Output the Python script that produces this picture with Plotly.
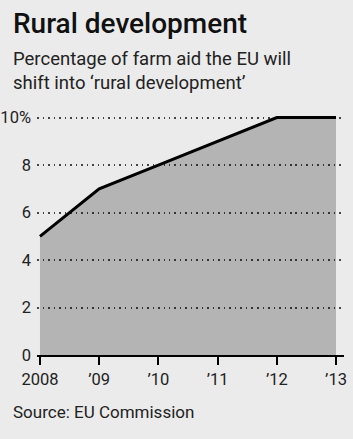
import plotly.graph_objects as go

years = [2008, 2009, 2010, 2011, 2012, 2013]
values = [5, 7, 8, 9, 10, 10]
x_tick_labels = ["2008", "\u201909", "\u201910", "\u201911", "\u201912", "\u201913"]
y_tick_vals = [0, 2, 4, 6, 8, 10]
y_tick_labels = ["0", "2", "4", "6", "8", "10%"]

FONT = "Roboto, sans-serif"
W, H = 353, 439
L, R, T, B = 37, 9, 110, 84
pw, ph = W - L - R, H - T - B

def px(x):
    return (x - L) / pw

def py(y):
    return (H - B - y) / ph

fig = go.Figure()
fig.add_trace(go.Scatter(
    x=years, y=values, mode="lines", fill="tozeroy",
    fillcolor="rgba(0,0,0,0.23)",
    line=dict(color="black", width=3),
    hoverinfo="skip",
))

fig.update_layout(
    width=W, height=H,
    margin=dict(l=L, r=R, t=T, b=B, pad=0, autoexpand=False),
    paper_bgcolor="#ebebeb", plot_bgcolor="#ebebeb",
    showlegend=False,
    font=dict(family=FONT, color="#222", size=18),
    xaxis=dict(
        range=[2007.95, 2013.135], automargin=False,
        tickvals=years, ticktext=x_tick_labels,
        showgrid=False, zeroline=False,
        showline=True, linecolor="black", linewidth=2,
        ticks="outside", ticklen=8, tickwidth=2, tickcolor="black",
        tickfont=dict(size=16.5, family=FONT, color="#222"),
        fixedrange=True,
    ),
    yaxis=dict(
        range=[0, 10.32], automargin=False,
        tickvals=y_tick_vals, ticktext=y_tick_labels,
        showgrid=True, gridcolor="#444", gridwidth=1.5, griddash="1.5px,4px",
        zeroline=False, showline=False, ticks="",
        ticklabelstandoff=5,
        tickfont=dict(size=16.5, family=FONT, color="#222"),
        fixedrange=True,
    ),
    annotations=[
        dict(text="Rural development", x=px(11), y=py(5), xref="paper", yref="paper",
             xanchor="left", yanchor="top", showarrow=False,
             font=dict(size=28, family=FONT, color="#111", weight=500)),
        dict(text="Percentage of farm aid the EU will<br>shift into \u2018rural development\u2019",
             x=px(11), y=py(46), xref="paper", yref="paper",
             xanchor="left", yanchor="top", showarrow=False, align="left",
             font=dict(size=18.5, family=FONT, color="#222")),
        dict(text="Source: EU Commission", x=px(11), y=py(400), xref="paper", yref="paper",
             xanchor="left", yanchor="top", showarrow=False,
             font=dict(size=17, family=FONT, color="#222")),
    ],
)

fig.write_html("out.html", config={"displayModeBar": False},
               post_script="document.body.style.margin='0';")
